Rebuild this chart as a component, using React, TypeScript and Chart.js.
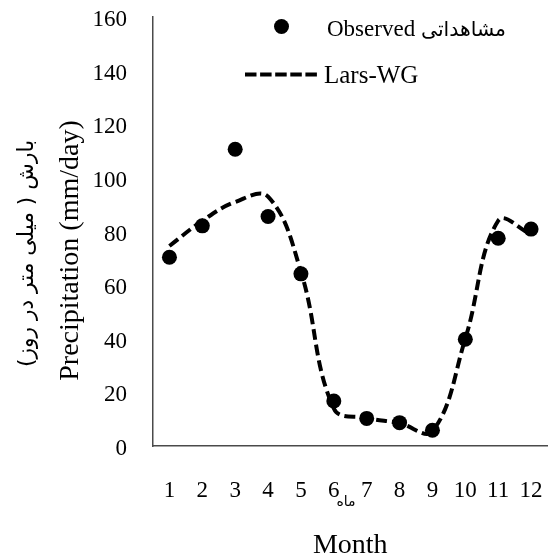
import React, { useEffect, useRef } from "react";
import { Chart, registerables } from "chart.js";

Chart.register(...registerables);

// ---- data ----
const months: string[] = ["1", "2", "3", "4", "5", "6", "7", "8", "9", "10", "11", "12"];
const observed: number[] = [70.4, 82.1, 110.7, 85.6, 64.2, 16.8, 10.3, 8.7, 5.9, 39.8, 77.5, 80.9];
const larsWG: number[] = [74.6, 84, 91, 93, 65, 14, 10.5, 8.5, 5.5, 40, 84, 79];
const yMin = 0;
const yMax = 160;
const yStep = 20;
const legendLabels: string[] = ["Observed", "Lars-WG"];
const legendLabelFa = "مشاهداتی";
const xTitle = "Month";
const xNoteFa = "ماه";
const yTitle = "Precipitation (mm/day)";
const yTitleFa = "بارش ( میلی متر در روز)";

const SERIF = '"Liberation Serif", "Times New Roman", "DejaVu Sans", serif';
const FA = '"DejaVu Sans", sans-serif';

const overlayPlugin = {
  id: "overlay",
  afterDraw(chart: any) {
    const ctx: CanvasRenderingContext2D = chart.ctx;
    const area = chart.chartArea;
    ctx.save();
    ctx.fillStyle = "#000";
    ctx.strokeStyle = "#000";

    // legend: observed
    ctx.beginPath();
    ctx.arc(281.5, 26.5, 7.5, 0, Math.PI * 2);
    ctx.fill();
    ctx.font = "23px " + SERIF;
    ctx.textAlign = "left";
    ctx.textBaseline = "alphabetic";
    ctx.fillText(legendLabels[0], 327, 36);
    const obsW = ctx.measureText(legendLabels[0] + " ").width;
    ctx.font = "20px " + FA;
    const faW = ctx.measureText(legendLabelFa).width;
    const faFs = Math.max(10, Math.min(23, (20 * (506 - 327 - obsW)) / faW));
    ctx.font = faFs.toFixed(1) + "px " + FA;
    ctx.fillText(legendLabelFa, 327 + obsW, 36);

    // legend: Lars-WG
    ctx.lineWidth = 4;
    ctx.setLineDash([11.5, 3.6]);
    ctx.beginPath();
    ctx.moveTo(245, 74.5);
    ctx.lineTo(317, 74.5);
    ctx.stroke();
    ctx.setLineDash([]);
    ctx.font = "25px " + SERIF;
    ctx.fillText(legendLabels[1], 324, 83);

    // x title
    ctx.font = "28px " + SERIF;
    ctx.textAlign = "center";
    ctx.fillText(xTitle, (area.left + area.right) / 2, 553);

    // persian note between 6 and 7
    ctx.font = "14px " + FA;
    ctx.fillText(xNoteFa, 346, 506);

    // y title (English)
    ctx.save();
    ctx.translate(77.5, 250.5);
    ctx.rotate(-Math.PI / 2);
    ctx.font = "28px " + SERIF;
    ctx.textAlign = "center";
    ctx.fillText(yTitle, 0, 0);
    ctx.restore();

    // y title (Persian)
    ctx.save();
    ctx.translate(33, 253.5);
    ctx.rotate(-Math.PI / 2);
    ctx.direction = "rtl";
    ctx.font = "20px " + FA;
    const w = ctx.measureText(yTitleFa).width;
    const fs = Math.max(10, Math.min(24, (20 * 227) / w));
    ctx.font = fs.toFixed(1) + "px " + FA;
    ctx.textAlign = "center";
    ctx.fillText(yTitleFa, 0, 0);
    ctx.restore();

    ctx.restore();
  },
};

function zeroPadding(scale: any) {
  scale.paddingTop = 0;
  scale.paddingBottom = 0;
  scale.paddingLeft = 0;
  scale.paddingRight = 0;
}

export default function App() {
  const ref = useRef<HTMLCanvasElement | null>(null);

  useEffect(() => {
    if (!ref.current) return;
    const chart = new Chart(ref.current, {
      type: "line",
      data: {
        labels: months,
        datasets: [
          {
            label: legendLabels[0],
            data: observed,
            showLine: false,
            pointRadius: 7.5,
            pointHoverRadius: 7.5,
            pointBackgroundColor: "#000",
            pointBorderColor: "#000",
            pointBorderWidth: 0,
            borderColor: "#000",
            backgroundColor: "#000",
          },
          {
            label: legendLabels[1],
            data: larsWG,
            borderColor: "#000",
            borderWidth: 4,
            borderDash: [11, 5],
            borderCapStyle: "butt",
            tension: 0.4,
            pointRadius: 0,
            pointHoverRadius: 0,
            fill: false,
          },
        ],
      },
      options: {
        responsive: false,
        animation: false,
        devicePixelRatio: 1,
        events: [],
        layout: { padding: { left: 8, top: 17, right: 0, bottom: 0 } },
        plugins: {
          legend: { display: false },
          tooltip: { enabled: false },
          title: { display: false },
        },
        scales: {
          x: {
            type: "category",
            offset: true,
            grid: { display: false, drawTicks: false },
            border: { display: true, color: "#4a4a4a", width: 1.5 },
            ticks: {
              color: "#000",
              font: { family: SERIF, size: 23 },
              padding: 31,
              maxRotation: 0,
              autoSkip: false,
            },
            afterFit: (scale: any) => {
              scale.height = 108;
              zeroPadding(scale);
            },
          },
          y: {
            min: yMin,
            max: yMax,
            grid: { display: false, drawTicks: false },
            border: { display: true, color: "#4a4a4a", width: 1.5 },
            ticks: {
              stepSize: yStep,
              color: "#000",
              font: { family: SERIF, size: 23 },
              padding: 26,
              labelOffset: 3,
            },
            afterFit: (scale: any) => {
              scale.width = 145;
              zeroPadding(scale);
            },
          },
        },
      },
      plugins: [overlayPlugin],
    } as any);
    return () => chart.destroy();
  }, []);

  return (
    <div
      style={{
        position: "absolute",
        left: 0,
        top: 0,
        width: 553,
        height: 554,
        overflow: "hidden",
        background: "#fff",
      }}
    >
      <canvas ref={ref} width={555} height={554} style={{ display: "block" }} />
    </div>
  );
}
